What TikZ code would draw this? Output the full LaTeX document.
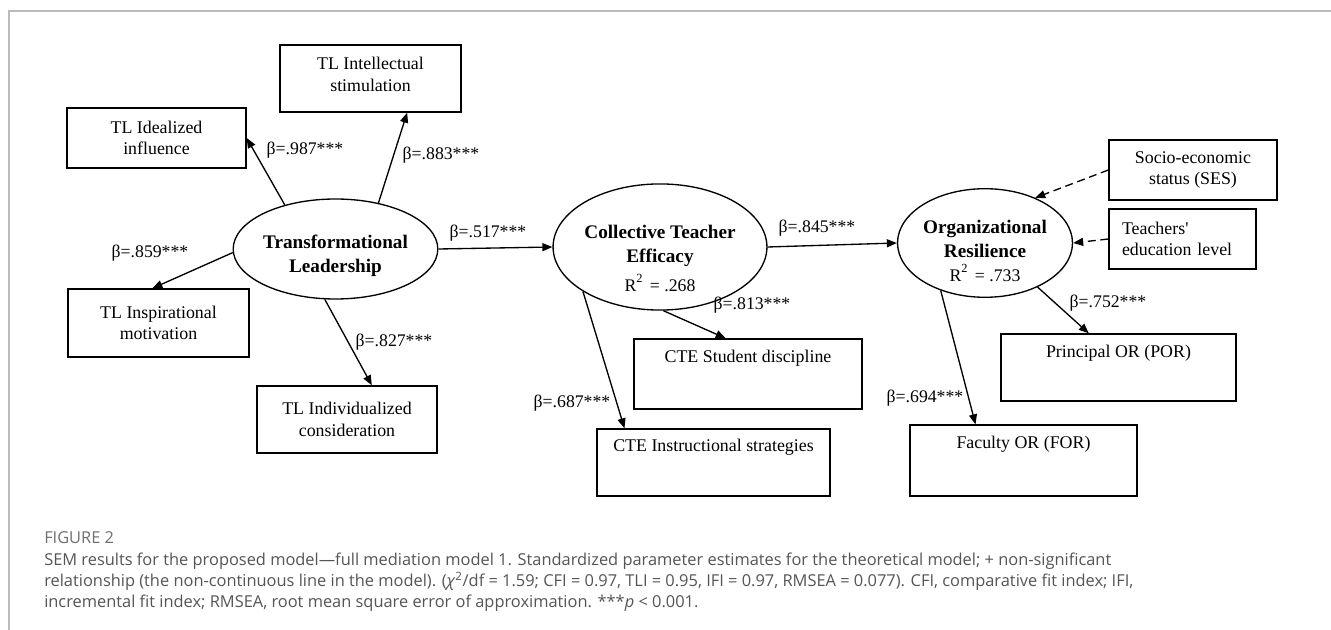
\documentclass[tikz,border=0pt]{standalone}
\usepackage{fontspec}
\setmainfont{Liberation Serif}
\newfontfamily\capfont{Open Sans}
\usetikzlibrary{arrows.meta,shapes.geometric}
\definecolor{capgray}{HTML}{555555}
\definecolor{figgray}{HTML}{707070}
\definecolor{framegray}{HTML}{BBBBBB}
\begin{document}
\begin{tikzpicture}[x=0.75pt,y=-0.75pt,
  box/.style={draw, line width=1pt, rectangle, inner sep=0pt, align=center,
    font=\fontsize{13.4}{16.3}\selectfont},
  toptext/.style={text height=9pt, text depth=#1},
  lat/.style={draw, ellipse, line width=1pt, inner sep=0pt, align=center,
    minimum width=131pt, minimum height=75pt,
    font=\fontsize{14.4}{18}\selectfont\bfseries},
  lbl/.style={font=\fontsize{13.3}{16}\selectfont, inner sep=0pt},
  pth/.style={line width=1pt, -{Triangle[length=7.5pt,width=6pt]}},
  cov/.style={pth, dash pattern=on 6pt off 3.5pt},
  captext/.style={font=\capfont\fontsize{12.3}{15}\selectfont, text=capgray, inner sep=0pt, anchor=base west}
]
\useasboundingbox (0,0) rectangle (1331,630);
\fill[white] (0,0) rectangle (1331,630);
\draw[framegray, line width=1.1pt] (9,630) -- (9,11) -- (1331,11);

% latent variables
\node[lat] (tl) at (335.5,249) {\rule{0pt}{20.25pt}Transformational\\Leadership};
\node[lat] (cte) at (660,247) {\rule{0pt}{27.2pt}Collective Teacher\\Efficacy\\[3.5pt]{\mdseries\fontsize{13.3}{18}\selectfont R\raisebox{1.5pt}{\textsuperscript{2}}\hspace{5pt}= .268}};
\node[lat] (or) at (985,243) {\rule{0pt}{21.4pt}Organizational\\Resilience\\{\mdseries\fontsize{13.3}{18}\selectfont R\raisebox{1.5pt}{\textsuperscript{2}}\hspace{5pt}= .733}};

% indicators
\node[box, minimum width=134.25pt, minimum height=45pt] (ideal) at (156.5,138) {TL Idealized\\influence};
\node[box, minimum width=135.75pt, minimum height=50.25pt] (intel) at (370.5,78.5) {TL Intellectual\\stimulation\rule[-6.75pt]{0pt}{6.75pt}};
\node[box, minimum width=135.75pt, minimum height=51pt] (insp) at (158.5,323) {TL Inspirational\\motivation};
\node[box, minimum width=135pt, minimum height=50.25pt] (indiv) at (347,419.5) {TL Individualized\\consideration};
\node[box, minimum width=171pt, minimum height=52.5pt, toptext=25.5pt] (stud) at (748,374) {CTE Student discipline};
\node[box, minimum width=174.75pt, minimum height=50.25pt, toptext=25.5pt] (instr) at (713.5,462.5) {CTE Instructional strategies};
\node[box, minimum width=126pt, minimum height=45pt] (ses) at (1193,170) {Socio-economic\\status (SES)};
\node[box, minimum width=110.25pt, minimum height=45pt, align=left, text width=90.75pt] (tedu) at (1182.5,239) {Teachers\textquotesingle\\education level};
\node[box, minimum width=176.25pt, minimum height=50.25pt, toptext=23.25pt] (por) at (1118.5,367.5) {Principal OR (POR)};
\node[box, minimum width=170.25pt, minimum height=53.25pt, toptext=26.25pt] (for) at (1023.5,460.5) {Faculty OR (FOR)};

% paths
\draw[pth] (tl.139) -- (ideal.east);
\draw[pth] (tl.47.3) -- (intel.-43.3);
\draw[pth] (tl.182.6) -- (insp.100.5);
\draw[pth] (tl.258.4) -- (indiv.54.4);
\draw[pth] (tl.east) -- (cte.west);
\draw[pth] (cte.273.4) -- (stud.122.6);
\draw[pth] (cte.210.8) -- (instr.159.3);
\draw[pth] (cte.east) -- (or.west);
\draw[pth] (or.-40) -- (por.131.5);
\draw[pth] (or.227.7) -- (for.143.2);
\draw[cov] (ses.west) -- (or.42.6);
\draw[cov] (tedu.west) -- (or.east);

% labels
\node[lbl] (l987) at (305,150) {β=.987***};
\node[lbl] (l883) at (441,155) {β=.883***};
\node[lbl] (l859) at (150,253) {β=.859***};
\node[lbl] (l827) at (394,342) {β=.827***};
\node[lbl] (l517) at (488,233) {β=.517***};
\node[lbl] (l813) at (752,305) {β=.813***};
\node[lbl] (l687) at (572,403) {β=.687***};
\node[lbl] (l845) at (817,228) {β=.845***};
\node[lbl] (l752) at (1108,303) {β=.752***};
\node[lbl] (l694) at (925,398) {β=.694***};

% caption
\node[captext, text=figgray] (fig) at (44,543) {FIGURE 2};
\node[captext] (c1) at (44,565) {SEM results for the proposed model—full mediation model 1. Standardized parameter estimates for the theoretical model; + non-significant};
\node[captext] (c2) at (44,586) {relationship (the non-continuous line in the model). (\textit{χ}\textsuperscript{2}/df = 1.59; CFI = 0.97, TLI = 0.95, IFI = 0.97, RMSEA = 0.077). CFI, comparative fit index; IFI,};
\node[captext] (c3) at (44,607) {incremental fit index; RMSEA, root mean square error of approximation. ***\textit{p} < 0.001.};
\end{tikzpicture}
\end{document}
